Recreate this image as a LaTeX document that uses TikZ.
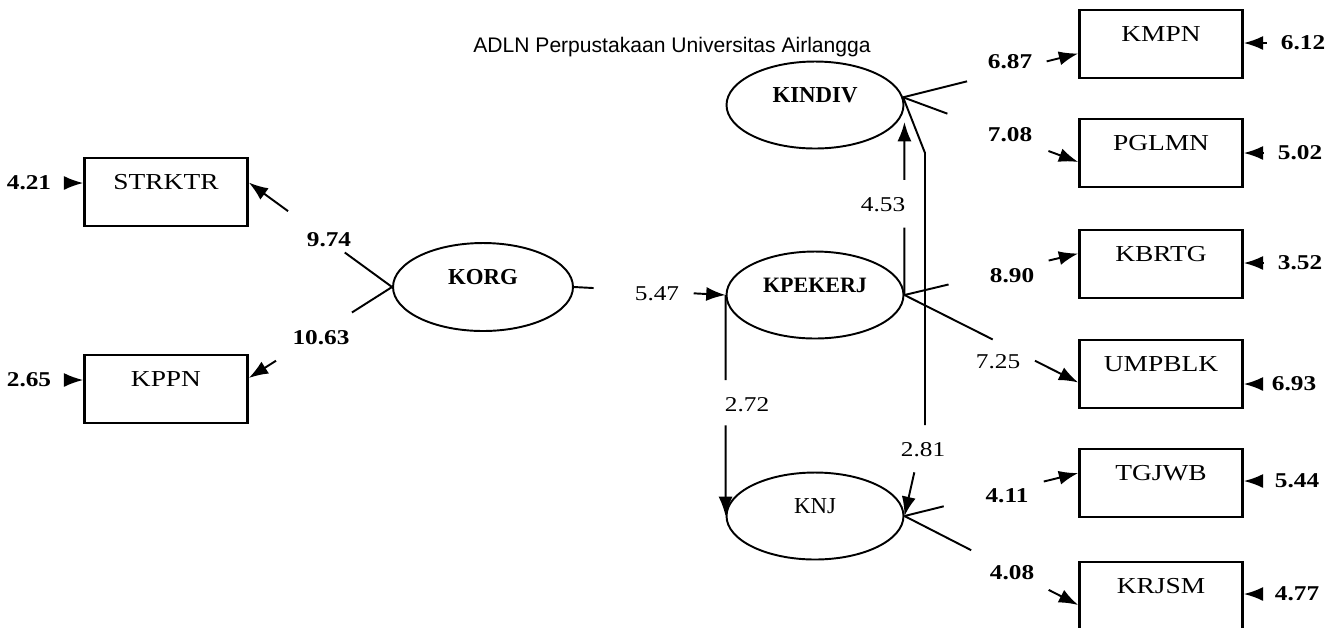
\documentclass[tikz,border=0pt]{standalone}
\usepackage{fontspec}
\setmainfont{Liberation Serif}
\newfontfamily\widefont{Liberation Serif}[FakeStretch=1.2]
\newfontfamily\markfont{Liberation Sans}
\usetikzlibrary{shapes.geometric,arrows.meta,calc}

\begin{document}
\begin{tikzpicture}[x=0.02cm, y=-0.02cm,
    latent/.style={ellipse, draw, line width=1.1pt, minimum width=3.54cm,
      minimum height=1.74cm, inner sep=0pt, text height=0.3cm, text depth=0.4cm},
    indic/.style={rectangle, draw, line width=1.5pt, minimum width=3.26cm,
      minimum height=1.36cm, inner sep=0pt, text height=0.3cm, text depth=0.4cm,
      font=\widefont\fontsize{13}{15}\selectfont},
    coef/.style={font=\widefont\fontsize{12}{14}\selectfont, inner sep=1pt},
    coefb/.style={coef, font=\widefont\bfseries\fontsize{12}{14}\selectfont},
    link/.style={line width=1.1pt},
    arr/.style={link, -{Latex[length=11pt,width=8pt]}},
    errarr/.style={arr, shorten <=0.24cm}]
  \useasboundingbox (0,0) rectangle (1327,627);
  \node[font=\markfont\fontsize{12}{14}\selectfont] (mark) at (672,47)
    {ADLN Perpustakaan Universitas Airlangga};

  % latent variables
  \node[latent, minimum width=3.6cm, minimum height=1.76cm,
    font=\bfseries\fontsize{13}{15}\selectfont] (korg) at (483,287) {KORG};
  \node[latent, font=\bfseries\fontsize{13}{15}\selectfont] (kindiv) at (815,105) {KINDIV};
  \node[latent, font=\bfseries\fontsize{12.5}{15}\selectfont] (kpekerj) at (815,295) {KPEKERJ};
  \node[latent, font=\fontsize{13}{15}\selectfont] (knj) at (815,516) {KNJ};

  % indicators
  \node[indic] (strktr) at (166,192) {STRKTR};
  \node[indic] (kppn) at (166,389) {KPPN};
  \node[indic] (kmpn) at (1161,44) {KMPN};
  \node[indic] (pglmn) at (1161,153) {PGLMN};
  \node[indic] (kbrtg) at (1161,264) {KBRTG};
  \node[indic] (umpblk) at (1161,374) {UMPBLK};
  \node[indic] (tgjwb) at (1161,483) {TGJWB};
  \node[indic] (krjsm) at (1161,596) {KRJSM};

  \coordinate (strktr-in) at ([yshift=0.19cm]strktr.east);
  \coordinate (kppn-in) at ([yshift=0.22cm]kppn.east);
  \coordinate (kmpn-in) at ([yshift=-0.19cm]kmpn.west);
  \coordinate (pglmn-in) at ([yshift=-0.18cm]pglmn.west);
  \coordinate (kbrtg-in) at ([yshift=0.21cm]kbrtg.west);
  \coordinate (umpblk-in) at ([yshift=-0.17cm]umpblk.west);
  \coordinate (tgjwb-in) at ([yshift=0.2cm]tgjwb.west);
  \coordinate (krjsm-in) at ([yshift=-0.18cm]krjsm.west);
  \coordinate (kindiv-in) at ([yshift=-0.34cm]kindiv.east);

  % coefficients
  \node[coefb] (c974) at (329,240) {9.74};
  \node[coefb] (c1063) at (321,338) {10.63};
  \node[coef] (c547) at (657,294) {5.47};
  \node[coef] (c453) at (883,205) {4.53};
  \node[coef] (c272) at (747,405) {2.72};
  \node[coef] (c281) at (923,450) {2.81};
  \node[coefb] (c687) at (1010,62) {6.87};
  \node[coefb] (c708) at (1010,135) {7.08};
  \node[coefb] (c890) at (1012,276) {8.90};
  \node[coef] (c725) at (998,362) {7.25};
  \node[coefb] (c411) at (1007,496) {4.11};
  \node[coefb] (c408) at (1012,573) {4.08};

  % paths, broken where the value sits
  \foreach \s/\t/\a/\b in {kindiv.5/kmpn-in/0.365/0.82, kindiv.5/pglmn-in/0.253/0.83,
      kpekerj.east/kbrtg-in/0.254/0.83, kpekerj.east/umpblk-in/0.508/0.751,
      knj.east/tgjwb-in/0.226/0.802, knj.east/krjsm-in/0.384/0.83,
      korg.west/strktr-in/0.33/0.726, korg.west/kppn-in/0.28/0.81,
      korg.east/kpekerj.west/0.13/0.79, kpekerj.east/kindiv-in/0.39/0.665,
      kpekerj.west/knj.west/0.385/0.59} {
    \draw[link] (\s) -- ($(\s)!\a!(\t)$);
    \draw[arr] ($(\s)!\b!(\t)$) -- (\t);
  }
  \coordinate (bend1) at (925,153);
  \coordinate (bend2) at (925,425);
  \draw[link] (kindiv.5) -- (bend1) -- (bend2);
  \draw[arr] ($(bend2)!0.52!(knj.east)$) -- (knj.east);

  % error terms
  \node[coefb] (e421) at (29,183) {4.21};
  \node[coefb] (e265) at (29,380) {2.65};
  \node[coefb] (e612) at (1303,43) {6.12};
  \node[coefb] (e502) at (1300,153) {5.02};
  \node[coefb] (e352) at (1300,263) {3.52};
  \node[coefb] (e693) at (1294,384) {6.93};
  \node[coefb] (e544) at (1297,481) {5.44};
  \node[coefb] (e477) at (1297,594) {4.77};
  \foreach \e/\n in {e421/strktr, e265/kppn}
    \draw[errarr] (\e) -- (\e -| \n.west);
  \foreach \e/\n in {e612/kmpn, e502/pglmn, e352/kbrtg, e693/umpblk, e544/tgjwb, e477/krjsm}
    \draw[errarr] (\e) -- (\e -| \n.east);
\end{tikzpicture}
\end{document}
